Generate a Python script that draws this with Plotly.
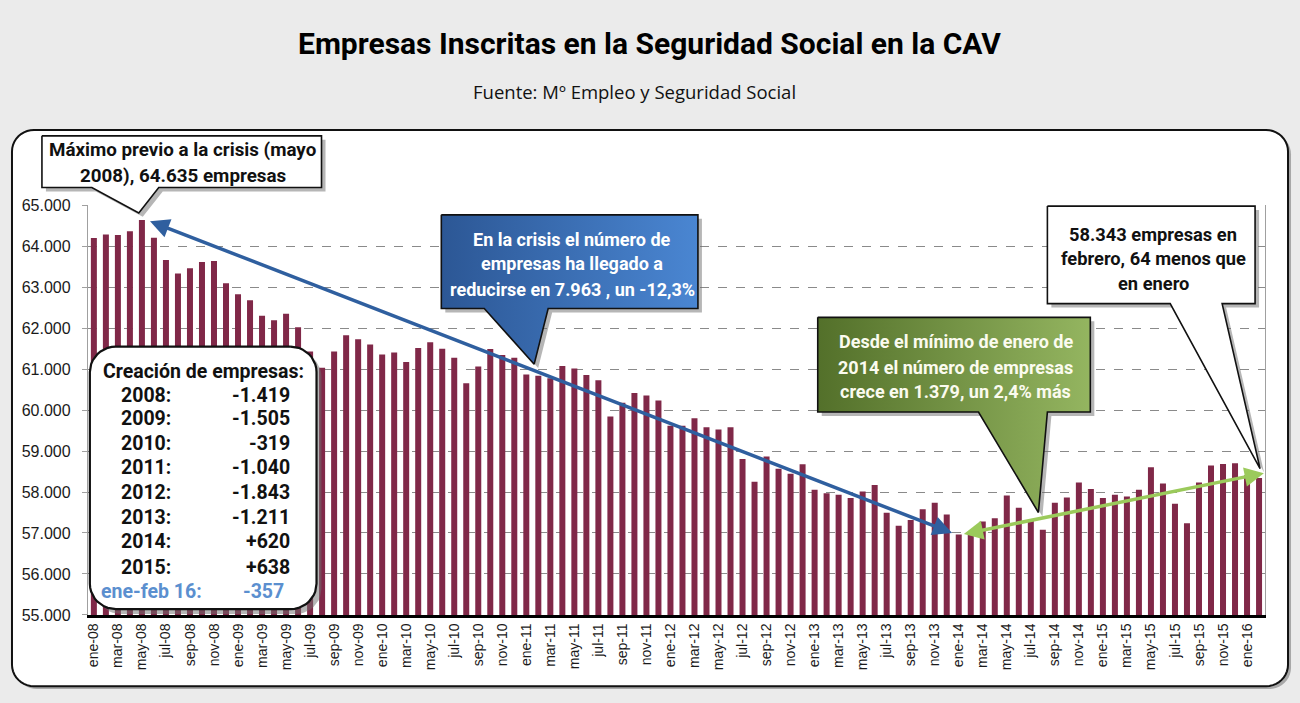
import math
import plotly.graph_objects as go

W, H = 1300, 703
PL, PR, PT, PB = 86, 1265, 202, 622   # plot area in page pixels

# ---------------- data ----------------
month_names = ["ene", "feb", "mar", "abr", "may", "jun", "jul", "ago", "sep", "oct", "nov", "dic"]
year_suffixes = ["08", "09", "10", "11", "12", "13", "14", "15", "16"]
categories = [f"{m}-{y}" for y in year_suffixes for m in month_names][:98]

empresas = [
    64200, 64285, 64270, 64365, 64635, 64206, 63658, 63332, 63459, 63610, 63634, 63094,   # 2008
    62824, 62681, 62300, 62188, 62347, 62021, 61426, 61029, 61426, 61823, 61727, 61600,   # 2009
    61354, 61402, 61171, 61513, 61656, 61497, 61275, 60655, 61060, 61489, 61346, 61275,   # 2010
    60870, 60838, 60774, 61076, 61013, 60854, 60727, 59845, 60179, 60417, 60353, 60234,   # 2011
    59615, 59615, 59797, 59583, 59527, 59583, 58804, 58248, 58868, 58566, 58447, 58677,   # 2012
    58058, 57970, 57931, 57851, 58010, 58169, 57494, 57176, 57319, 57581, 57740, 57454,   # 2013
    56964, 56990, 57280, 57359, 57915, 57613, 57319, 57081, 57740, 57867, 58233, 58074,   # 2014
    57851, 57931, 57891, 58058, 58606, 58209, 57716, 57240, 58233, 58646, 58685, 58700,   # 2015
    58407, 58343,                                                                         # 2016
]
tick_labels = categories[::2]
y_ticks = [55000, 56000, 57000, 58000, 59000, 60000, 61000, 62000, 63000, 64000, 65000]

creacion_years = ["2008:", "2009:", "2010:", "2011:", "2012:", "2013:", "2014:", "2015:", "ene-feb 16:"]
creacion_values = ["-1.419", "-1.505", "-319", "-1.040", "-1.843", "-1.211", "+620", "+638", "-357"]

# ---------------- style ----------------
NARROW = "Roboto, Liberation Sans, Arial, sans-serif"
ARIAL = "Liberation Sans, Arial, sans-serif"
BAR = "#802848"

fig = go.Figure()

fig.add_trace(go.Bar(
    x=categories, y=empresas, marker=dict(color=BAR, line=dict(width=0)),
    xaxis="x", yaxis="y", hoverinfo="skip", showlegend=False,
))


def rounded_rect(x0, y0, x1, y1, r, n=10):
    xs, ys = [], []
    corners = [(x1 - r, y0 + r, -90, 0), (x1 - r, y1 - r, 0, 90),
               (x0 + r, y1 - r, 90, 180), (x0 + r, y0 + r, 180, 270)]
    for cx, cy, a0, a1 in corners:
        for k in range(n + 1):
            a = math.radians(a0 + (a1 - a0) * k / n)
            xs.append(cx + r * math.cos(a))
            ys.append(cy + r * math.sin(a))
    xs.append(xs[0]); ys.append(ys[0])
    return xs, ys


def callout(x0, y0, x1, y1, pl, pr, tip):
    xs = [x0, x1, x1, pr, tip[0], pl, x0, x0]
    ys = [y0, y0, y1, y1, tip[1], y1, y1, y0]
    return xs, ys


def shadow(xs, ys, d=4):
    fig.add_trace(go.Scatter(
        x=[v + d for v in xs], y=[v + d for v in ys], mode="lines", fill="toself",
        fillcolor="rgba(110,110,110,0.5)", line=dict(width=0),
        xaxis="x2", yaxis="y2", hoverinfo="skip", showlegend=False))


def shape_fill(xs, ys, fill=None, gradient=None, lw=1.6):
    kw = dict(fillcolor=fill) if gradient is None else dict(fillgradient=gradient)
    fig.add_trace(go.Scatter(
        x=xs, y=ys, mode="lines", fill="toself", line=dict(color="#111111", width=lw),
        xaxis="x2", yaxis="y2", hoverinfo="skip", showlegend=False, **kw))


# callout boxes (page-pixel coordinates)
boxes = [
    (callout(40, 131, 320, 184, 90, 157, (137, 210)), "white", None),
    (callout(440, 212, 697, 308, 483, 547, (533, 365)), None,
     dict(type="horizontal", colorscale=[[0, "#2c5795"], [1, "#4a86d2"]])),
    (callout(817, 317, 1090, 414, 978, 1047, (1038, 517)), None,
     dict(type="horizontal", colorscale=[[0, "#53702a"], [1, "#94b560"]])),
    (callout(1047, 203, 1255, 303, 1170, 1222, (1260, 472)), "white", None),
]
for (xs, ys), f, g in boxes:
    shadow(xs, ys)
    shape_fill(xs, ys, fill=f, gradient=g)

rx, ry = rounded_rect(88, 347, 315, 616, 26)
shadow(rx, ry, 5)
shape_fill(rx, ry, fill="white", lw=2.2)

# ---------------- annotations ----------------
ann = []


def txt(x, y, s, size=18, color="#111111", anchor="center", family=NARROW, weight="bold"):
    ann.append(dict(x=x, y=y, xref="x2", yref="y2", text=s, showarrow=False,
                    xanchor=anchor, yanchor="middle",
                    font=dict(family=family, size=size, color=color, weight=weight)))


txt(648, 36, "Empresas Inscritas en la Seguridad Social en la CAV", size=30, color="#000000")
txt(633, 86, "Fuente: Mº Empleo y Seguridad Social", size=18.5, color="#111111",
    family="Open Sans, Lato, sans-serif", weight="normal")

for s, y in zip(["Máximo previo a la crisis (mayo", "2008), 64.635 empresas"], [146, 172]):
    txt(181, y, s, size=18.8)
for s, y in zip(["En la crisis el número de", "empresas ha llegado a", "reducirse en 7.963 , un -12,3%"],
                [237, 262, 288]):
    txt(571, y, s, color="white")
for s, y in zip(["Desde el mínimo de enero de", "2014 el número de empresas", "crece en 1.379, un 2,4% más"],
                [342, 368, 393]):
    txt(955, y, s, color="#fbfbef")
for s, y in zip(["58.343 empresas en", "febrero, 64 menos que", "en enero"], [232, 257, 282]):
    txt(1153, y, s, size=18.3)

txt(202, 373, "Creación de empresas:", size=19.5)
row_y = [397, 421, 446, 471, 496, 522, 547, 573, 598]
for i, (yl, vl, y) in enumerate(zip(creacion_years, creacion_values, row_y)):
    last = i == len(creacion_years) - 1
    col = "#5b8fcf" if last else "#111111"
    txt(97 if last else 117, y, yl, size=19.5, color=col, anchor="left")
    txt(284 if last else 290, y, vl, size=19.5, color=col, anchor="right")

# arrows drawn in data coordinates
ann.append(dict(x=71.45, y=57000, ax=4.55, ay=64620, xref="x", yref="y", axref="x", ayref="y",
                text="", showarrow=True, arrowside="end+start", arrowhead=2, startarrowhead=2,
                arrowsize=1.1, startarrowsize=1.1, arrowwidth=3.5, arrowcolor="#2f5f9f"))
ann.append(dict(x=97.4, y=58460, ax=72.3, ay=56969, xref="x", yref="y", axref="x", ayref="y",
                text="", showarrow=True, arrowside="end+start", arrowhead=2, startarrowhead=2,
                arrowsize=1.1, startarrowsize=1.1, arrowwidth=3.5, arrowcolor="#9bca5b"))

# outer chart box (page level, below everything)
def path_from(xs, ys):
    pts = [f"{x / W:.5f},{1 - y / H:.5f}" for x, y in zip(xs, ys)]
    return "M" + " L".join(pts) + " Z"


ox, oy = rounded_rect(10, 125, 1288, 695, 22)
shapes = [
    dict(type="path", xref="paper", yref="paper", layer="below",
         path=path_from([v + 3 for v in ox], [v + 3 for v in oy]),
         fillcolor="#a8a8a8", line=dict(width=0)),
    dict(type="path", xref="paper", yref="paper", layer="below",
         path=path_from(ox, oy), fillcolor="white", line=dict(color="#111111", width=2)),
]

fig.update_layout(
    width=W, height=H, margin=dict(l=0, r=0, t=0, b=0),
    paper_bgcolor="#ebebeb", plot_bgcolor="rgba(0,0,0,0)",
    separators=",.", bargap=0.5, showlegend=False,
    annotations=ann, shapes=shapes,
    xaxis=dict(domain=[PL / W, PR / W], type="category", range=[-0.5, len(categories) - 0.5],
               tickmode="array", tickvals=tick_labels, ticktext=tick_labels, tickangle=-90,
               tickfont=dict(family=ARIAL, size=14, color="#1a1a1a"),
               showline=True, linecolor="#000000", linewidth=3, ticks="", showgrid=False,
               anchor="y", fixedrange=True),
    yaxis=dict(domain=[1 - PB / H, 1 - PT / H], range=[55000, 65000], tickmode="array",
               tickvals=y_ticks, tickformat=",d",
               tickfont=dict(family=ARIAL, size=16, color="#1a1a1a"),
               showgrid=True, gridcolor="#8a8a8a", griddash="dash", gridwidth=1.3,
               showline=True, linecolor="#a0a0a0", linewidth=1, mirror=True,
               ticks="outside", ticklen=5, tickcolor="#a0a0a0", ticklabelstandoff=8,
               zeroline=False, anchor="x", fixedrange=True),
    xaxis2=dict(domain=[0, 1], range=[0, W], visible=False, anchor="y2", fixedrange=True),
    yaxis2=dict(domain=[0, 1], range=[H, 0], visible=False, anchor="x2", fixedrange=True),
)

fig.write_html("out.html", config={"displayModeBar": False},
               post_script="document.body.style.margin='0';document.body.style.overflow='hidden';")
